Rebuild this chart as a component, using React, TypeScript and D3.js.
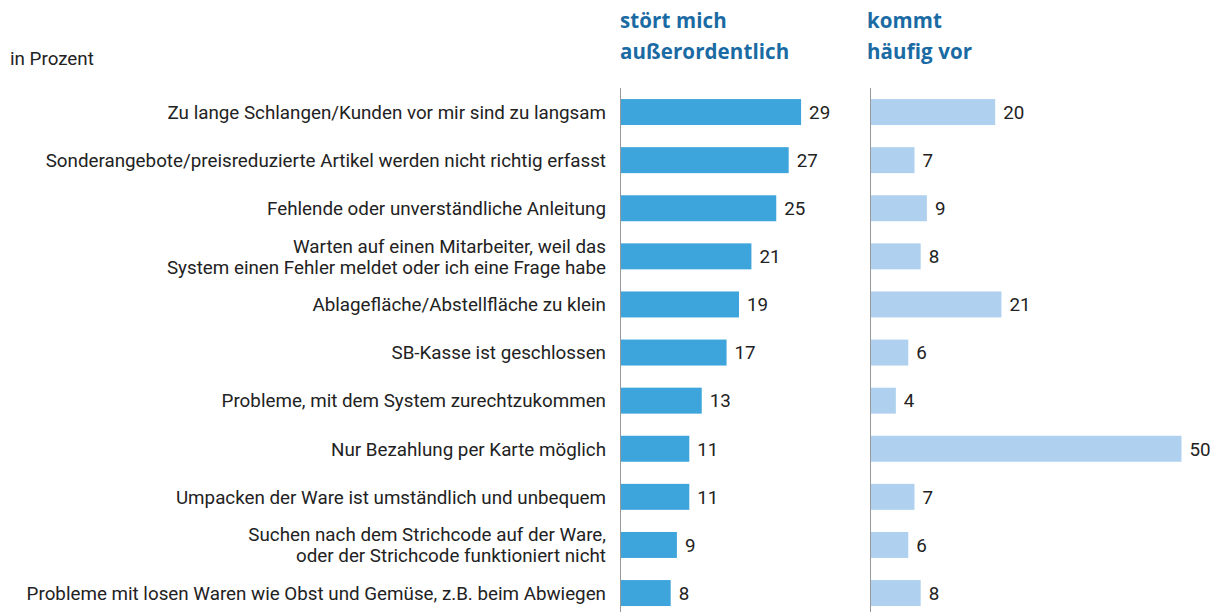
import React from "react";
import * as d3 from "d3";

const categories: string[][] = [
  ["Zu lange Schlangen/Kunden vor mir sind zu langsam"],
  ["Sonderangebote/preisreduzierte Artikel werden nicht richtig erfasst"],
  ["Fehlende oder unverständliche Anleitung"],
  ["Warten auf einen Mitarbeiter, weil das", "System einen Fehler meldet oder ich eine Frage habe"],
  ["Ablagefläche/Abstellfläche zu klein"],
  ["SB-Kasse ist geschlossen"],
  ["Probleme, mit dem System zurechtzukommen"],
  ["Nur Bezahlung per Karte möglich"],
  ["Umpacken der Ware ist umständlich und unbequem"],
  ["Suchen nach dem Strichcode auf der Ware,", "oder der Strichcode funktioniert nicht"],
  ["Probleme mit losen Waren wie Obst und Gemüse, z.B. beim Abwiegen"],
];
const stoert: number[] = [29, 27, 25, 21, 19, 17, 13, 11, 11, 9, 8];
const haeufig: number[] = [20, 7, 9, 8, 21, 6, 4, 50, 7, 6, 8];
const titleLeft = ["stört mich", "außerordentlich"];
const titleRight = ["kommt", "häufig vor"];
const unitLabel = "in Prozent";

const W = 1225;
const H = 612;
const FONT = "Roboto, 'Liberation Sans', sans-serif";
const TFONT = "'Open Sans', Roboto, sans-serif";
const FS = 18.8;

export default function App() {
  const y = d3
    .scaleBand<number>()
    .domain(d3.range(categories.length))
    .range([88, 88 + 48.1 * categories.length])
    .paddingInner(0.46)
    .paddingOuter(0.23);
  const x1 = d3.scaleLinear().domain([0, 50]).range([621, 621 + 310.5]);
  const x2 = d3.scaleLinear().domain([0, 50]).range([871, 871 + 310.5]);
  const bw = y.bandwidth();

  const panel = (vals: number[], x: d3.ScaleLinear<number, number>, color: string) => (
    <g>
      <line x1={x(0) - 0.5} x2={x(0) - 0.5} y1={88} y2={H} stroke="#999" strokeWidth={1} />
      {vals.map((v, i) => (
        <g key={i}>
          <rect x={x(0)} y={y(i)!} width={x(v) - x(0)} height={bw} fill={color} />
          <text
            x={x(v) + 8}
            y={y(i)! + bw / 2}
            dy="0.36em"
            fontSize={FS}
            fill="#222"
          >
            {v}
          </text>
        </g>
      ))}
    </g>
  );

  return (
    <svg
      width={W}
      height={H}
      style={{ position: "absolute", left: 0, top: 0, fontFamily: FONT }}
    >
      <rect width={W} height={H} fill="#fff" />
      <text x={10} y={65} fontSize={FS} fill="#222">
        {unitLabel}
      </text>
      {titleLeft.map((t, i) => (
        <text key={i} x={620} y={28 + i * 30.5} fontFamily={TFONT} fontSize={20.5} letterSpacing={0.1} fontWeight={700} fill="#1a6aa3">
          {t}
        </text>
      ))}
      {titleRight.map((t, i) => (
        <text key={i} x={867} y={28 + i * 30.5} fontFamily={TFONT} fontSize={20.5} letterSpacing={0.1} fontWeight={700} fill="#1a6aa3">
          {t}
        </text>
      ))}
      {categories.map((lines, i) => {
        const cy = y(i)! + bw / 2;
        const lh = 21;
        const start = cy - ((lines.length - 1) * lh) / 2;
        return (
          <text key={i} x={606} textAnchor="end" fontSize={FS} fill="#222">
            {lines.map((l, j) => (
              <tspan key={j} x={606} y={start + j * lh} dy="0.36em">
                {l}
              </tspan>
            ))}
          </text>
        );
      })}
      {panel(stoert, x1, "#3ea4dc")}
      {panel(haeufig, x2, "#afd1ef")}
    </svg>
  );
}
